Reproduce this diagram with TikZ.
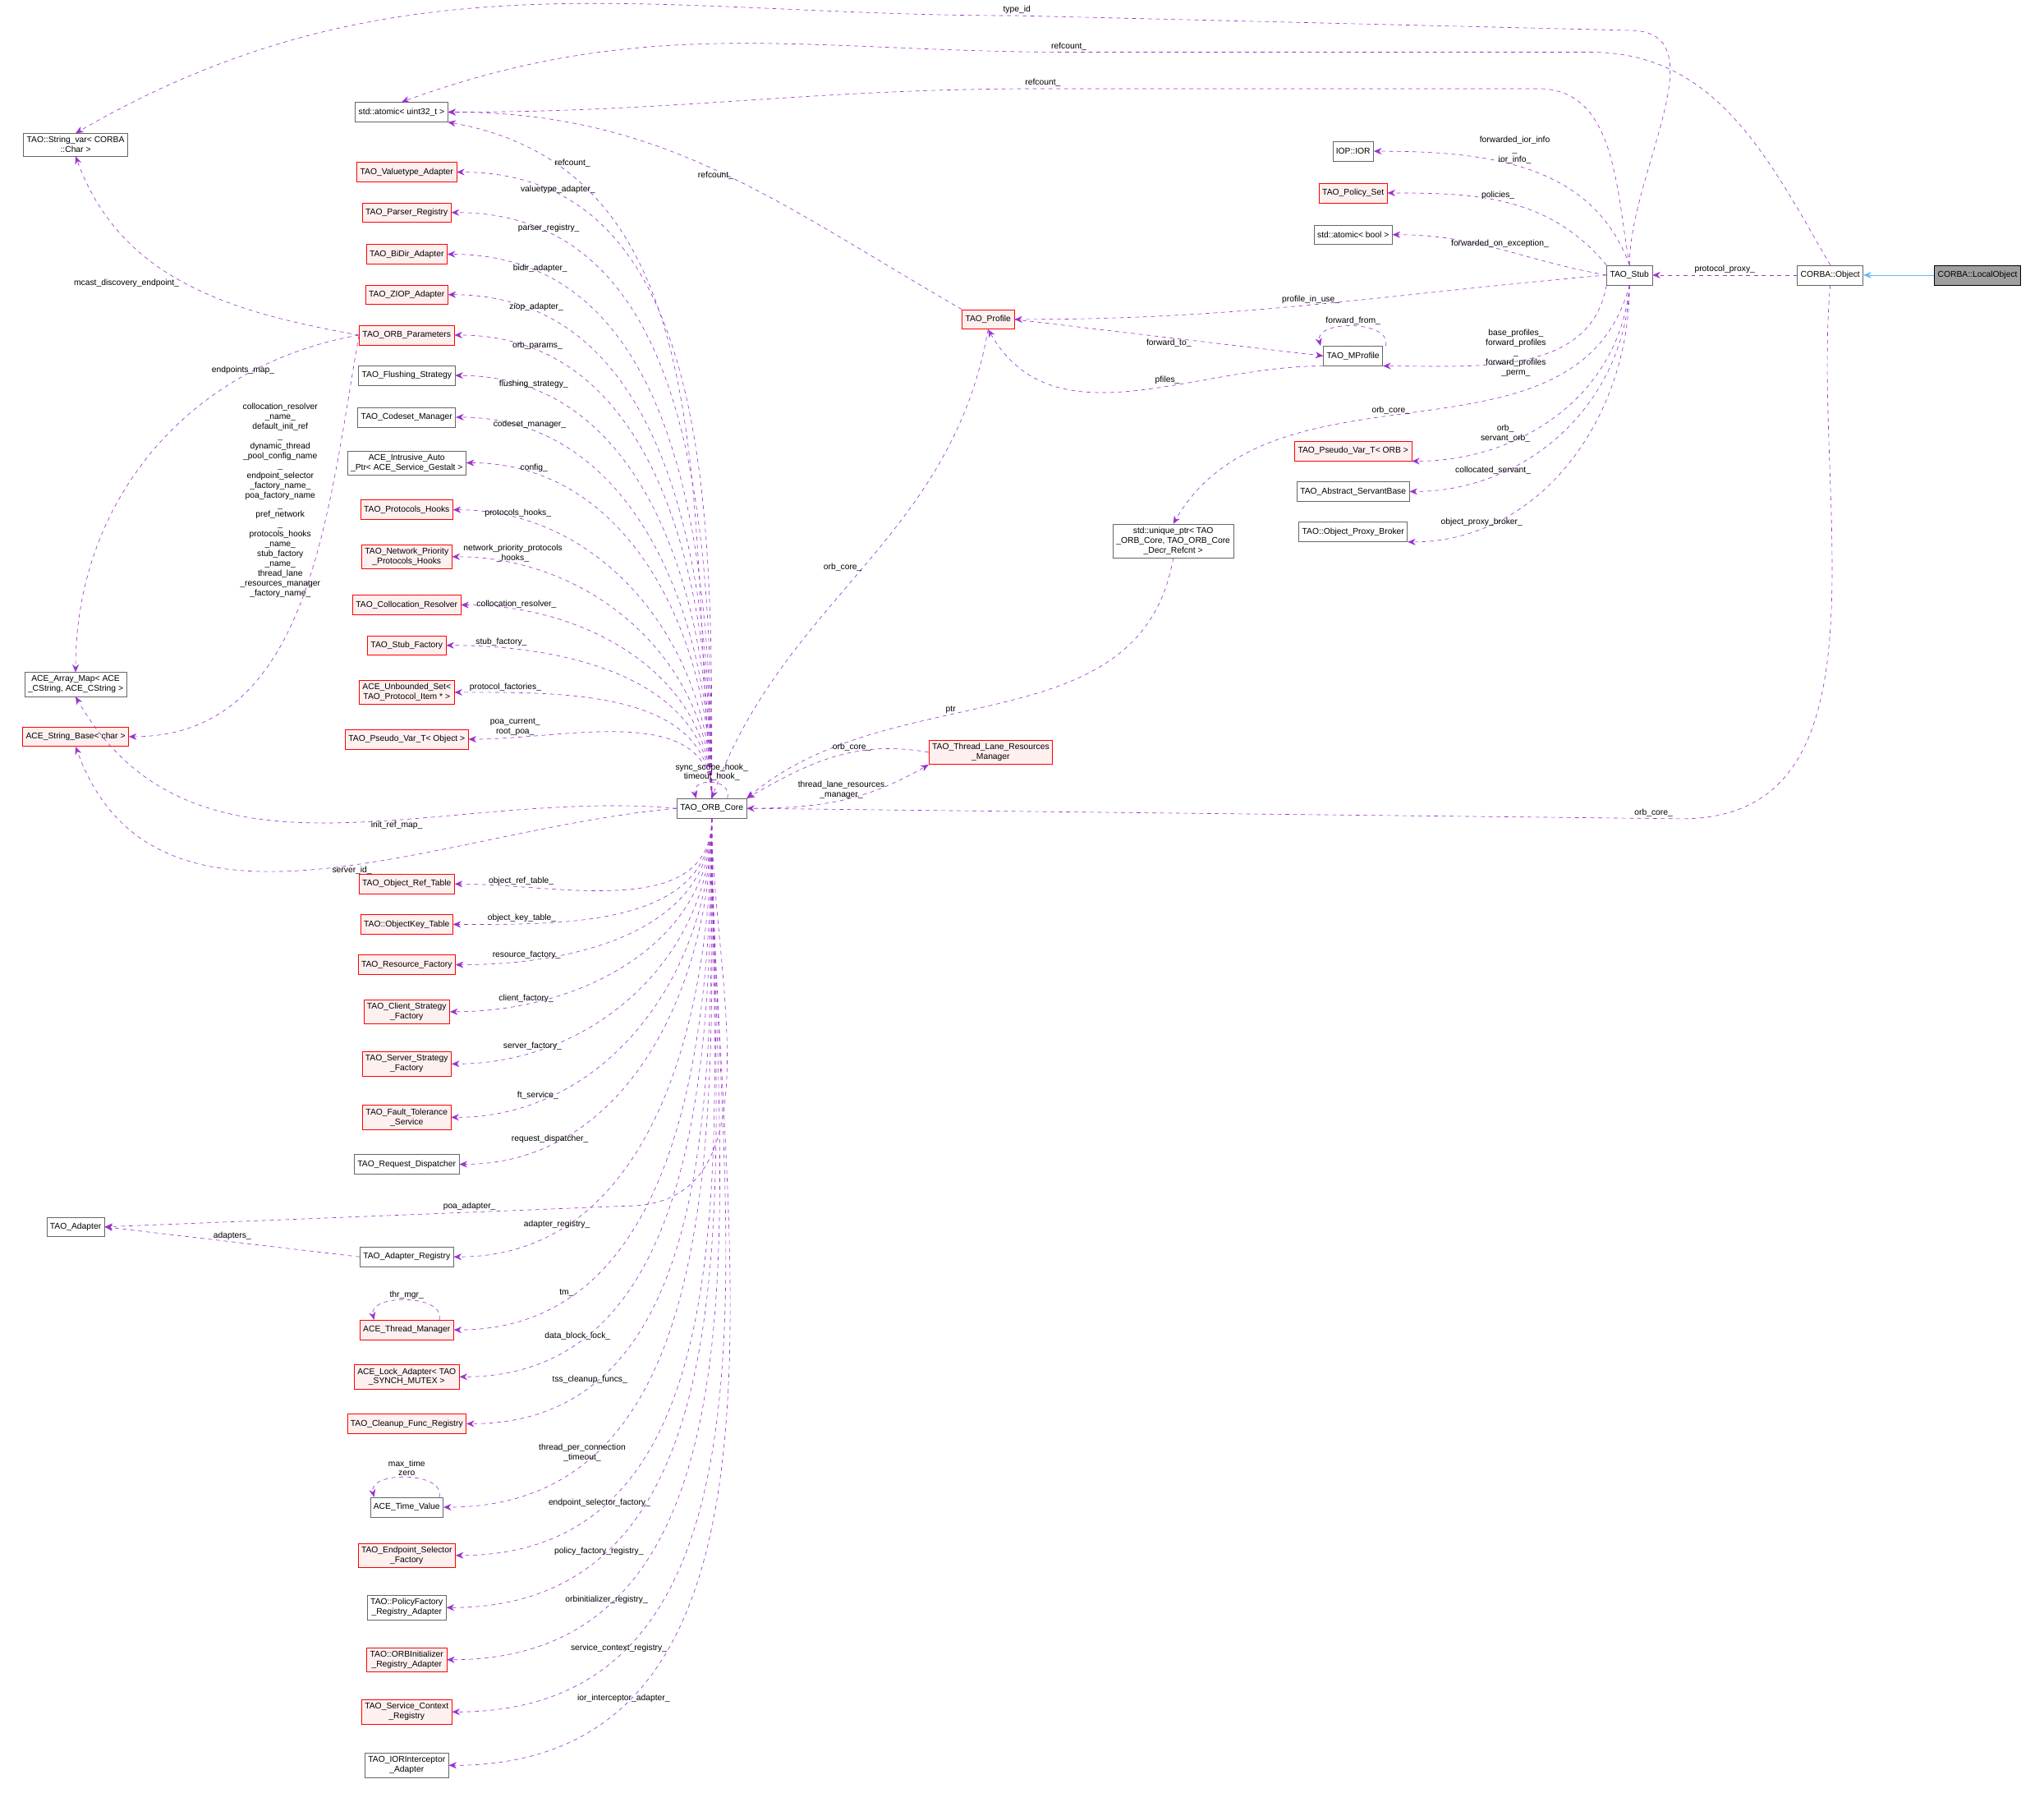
\documentclass[tikz,border=0pt]{standalone}
\usepackage{fontspec}
\setmainfont{Liberation Sans}
\usetikzlibrary{arrows.meta}
\definecolor{usecol}{HTML}{9A32CD}
\definecolor{inhcol}{HTML}{63B8FF}
\definecolor{redfill}{HTML}{FFF0F0}
\begin{document}
\begin{tikzpicture}[x=1pt,y=-1pt,font=\fontsize{6.5}{7.5}\selectfont,
  gbox/.style={draw=gray!80!black,fill=white,inner sep=2.5pt,minimum height=15,align=center},
  rbox/.style={draw=red,fill=redfill,inner sep=2.5pt,minimum height=15,align=center},
  use/.style={draw=usecol,dashed,-{Stealth[length=6pt,width=5pt]}},
  lab/.style={align=center,inner sep=1pt}]
\useasboundingbox (0,0) rectangle (1568,1375);
% left column of members
\foreach \nm/\yy/\st/\txt in {
  va/132/rbox/{TAO\_Valuetype\_Adapter}, pr/163/rbox/{TAO\_Parser\_Registry},
  bd/195/rbox/{TAO\_BiDir\_Adapter}, zi/226/rbox/{TAO\_ZIOP\_Adapter},
  op/257/rbox/{TAO\_ORB\_Parameters}, fs/288/gbox/{TAO\_Flushing\_Strategy},
  cm/320/gbox/{TAO\_Codeset\_Manager}, iap/355/gbox/{ACE\_Intrusive\_Auto\\\_Ptr< ACE\_Service\_Gestalt >},
  ph/391/rbox/{TAO\_Protocols\_Hooks}, np/427/rbox/{TAO\_Network\_Priority\\\_Protocols\_Hooks},
  cr/464/rbox/{TAO\_Collocation\_Resolver}, sf/495/rbox/{TAO\_Stub\_Factory},
  us/531/rbox/{ACE\_Unbounded\_Set<\\TAO\_Protocol\_Item * >}, pvo/567/rbox/{TAO\_Pseudo\_Var\_T< Object >},
  ort/678/rbox/{TAO\_Object\_Ref\_Table}, okt/709/rbox/{TAO::ObjectKey\_Table},
  rf/740/rbox/{TAO\_Resource\_Factory}, csf/776/rbox/{TAO\_Client\_Strategy\\\_Factory},
  ssf/816/rbox/{TAO\_Server\_Strategy\\\_Factory}, ft/857/rbox/{TAO\_Fault\_Tolerance\\\_Service},
  rd/893/gbox/{TAO\_Request\_Dispatcher}, ar/964/gbox/{TAO\_Adapter\_Registry},
  thm/1020/rbox/{ACE\_Thread\_Manager}, la/1056/rbox/{ACE\_Lock\_Adapter< TAO\\\_SYNCH\_MUTEX >},
  cf/1092/rbox/{TAO\_Cleanup\_Func\_Registry}, tv/1156/gbox/{ACE\_Time\_Value},
  es/1193/rbox/{TAO\_Endpoint\_Selector\\\_Factory}, pfr/1233/gbox/{TAO::PolicyFactory\\\_Registry\_Adapter},
  oir/1273/rbox/{TAO::ORBInitializer\\\_Registry\_Adapter}, scr/1313/rbox/{TAO\_Service\_Context\\\_Registry},
  ii/1354/gbox/{TAO\_IORInterceptor\\\_Adapter}}
  \node[\st] (\nm) at (312,\yy) {\txt};
\node[gbox] (au) at (308,86) {std::atomic< uint32\_t >};
\node[gbox] (sv) at (58,111) {TAO::String\_var< CORBA\\::Char >};
\node[gbox] (am) at (58,525) {ACE\_Array\_Map< ACE\\\_CString, ACE\_CString >};
\node[rbox] (sb) at (58,565) {ACE\_String\_Base< char >};
\node[gbox] (ad) at (58,941) {TAO\_Adapter};
\node[gbox] (core) at (546,620) {TAO\_ORB\_Core};
\node[rbox] (prof) at (758,245) {TAO\_Profile};
\node[gbox] (mp) at (1038,273) {TAO\_MProfile};
\node[rbox] (tl) at (760,577) {TAO\_Thread\_Lane\_Resources\\\_Manager};
\node[gbox] (up) at (900,415) {std::unique\_ptr< TAO\\\_ORB\_Core, TAO\_ORB\_Core\\\_Decr\_Refcnt >};
\node[gbox] (ior) at (1038,116) {IOP::IOR};
\node[rbox] (ps) at (1038,148) {TAO\_Policy\_Set};
\node[gbox] (ab) at (1038,180) {std::atomic< bool >};
\node[rbox] (pvr) at (1038,346) {TAO\_Pseudo\_Var\_T< ORB >};
\node[gbox] (asb) at (1038,377) {TAO\_Abstract\_ServantBase};
\node[gbox] (opb) at (1038,408) {TAO::Object\_Proxy\_Broker};
\node[gbox] (stub) at (1250,211) {TAO\_Stub};
\node[gbox] (obj) at (1404,211) {CORBA::Object};
\node[draw=black,fill=gray!75,inner sep=2.5pt,minimum height=15] (lo) at (1517,211) {CORBA::LocalObject};
% members of the ORB core
\foreach \nm/\lab in {va/valuetype\_adapter\_, pr/parser\_registry\_, bd/bidir\_adapter\_,
  zi/ziop\_adapter\_, op/orb\_params\_, fs/flushing\_strategy\_, cm/codeset\_manager\_,
  iap/config\_, ph/protocols\_hooks\_, np/{network\_priority\_protocols\\\_hooks\_},
  cr/collocation\_resolver\_, sf/stub\_factory\_, us/protocol\_factories\_, pvo/{poa\_current\_\\root\_poa\_}}
  \draw[use] (core.north) to[out=90,in=0] node[lab,pos=.85,above] {\lab} (\nm.east);
\foreach \nm/\lab in {ort/object\_ref\_table\_, okt/object\_key\_table\_, rf/resource\_factory\_,
  csf/client\_factory\_, ssf/server\_factory\_, ft/ft\_service\_, rd/request\_dispatcher\_,
  ar/adapter\_registry\_, thm/tm\_, la/data\_block\_lock\_, cf/tss\_cleanup\_funcs\_,
  tv/{thread\_per\_connection\\\_timeout\_}, es/endpoint\_selector\_factory\_,
  pfr/policy\_factory\_registry\_, oir/orbinitializer\_registry\_,
  scr/service\_context\_registry\_, ii/ior\_interceptor\_adapter\_}
  \draw[use] (core.south) to[out=-90,in=0] node[lab,pos=.8,above] {\lab} (\nm.east);
\draw[use] (core.north) to[out=95,in=-10] node[lab,pos=.85,right] {refcount\_} (au.south east);
\draw[use] (core.south) to[out=-90,in=0] (480,925) -- node[lab,pos=.3,above] {poa\_adapter\_} (ad.east);
\draw[use] (ar.west) -- node[lab,above] {adapters\_} (ad.east);
\draw[use] (core.west) to[out=175,in=-60] node[lab,pos=.4,below] {init\_ref\_map\_} (am.south);
\draw[use] (core.west) to[out=185,in=-70] node[lab,pos=.45,below] {server\_id\_} (sb.south);
\draw[use] (op.west) to[out=170,in=-70] node[lab,pos=.5,left=4pt] {mcast\_discovery\_endpoint\_} (sv.south);
\draw[use] (op.west) to[out=190,in=90] node[lab,pos=.25,above] {endpoints\_map\_} (am.north);
\draw[use] (op.west) to[out=-100,in=0] node[lab,pos=.3,left=6pt] {collocation\_resolver\\\_name\_\\default\_init\_ref\\\_\\dynamic\_thread\\\_pool\_config\_name\\\_\\endpoint\_selector\\\_factory\_name\_\\poa\_factory\_name\\\_\\pref\_network\\\_\\protocols\_hooks\\\_name\_\\stub\_factory\\\_name\_\\thread\_lane\\\_resources\_manager\\\_factory\_name\_} (sb.east);
% self references
\draw[use] ([xshift=25]thm.north) .. controls +(5,-20) and +(-5,-20) .. node[lab,above] {thr\_mgr\_} ([xshift=-25]thm.north);
\draw[use] ([xshift=25]tv.north) .. controls +(5,-20) and +(-5,-20) .. node[lab,above] {max\_time\\zero} ([xshift=-25]tv.north);
\draw[use] ([xshift=25]mp.north) .. controls +(5,-20) and +(-5,-20) .. node[lab,above] {forward\_from\_} ([xshift=-25]mp.north);
\draw[use] ([xshift=12]core.north) .. controls +(4,-16) and +(-4,-16) .. node[lab,above] {sync\_scope\_hook\_\\timeout\_hook\_} ([xshift=-12]core.north);
% profiles and threads
\draw[use] (prof.north west) to[out=150,in=0] node[lab,pos=.5,below] {refcount\_} (au.east);
\draw[use] (prof.south) to[out=-100,in=70] node[lab,pos=.5,left] {orb\_core\_} (core.north);
\draw[use] (up.south) to[out=-100,in=40] node[lab,pos=.6,above] {ptr} (core.north east);
\draw[use] (tl.west) to[out=170,in=30] node[lab,pos=.4,above] {orb\_core\_} (core.north east);
\draw[use] (core.east) to[out=0,in=-150] node[lab,pos=.5,above] {thread\_lane\_resources\\\_manager\_} (tl.south west);
\draw[use] (prof.east) -- node[lab,pos=.5,below] {forward\_to\_} (mp.west);
\draw[use] (mp.south west) to[out=180,in=-60] node[lab,pos=.4,above] {pfiles\_} (prof.south);
% the stub
\draw[use] (stub.north) to[out=90,in=0] ++(0,-180) -- (780,12) to[out=180,in=30] node[lab,pos=0,above] {type\_id} (sv.north);
\draw[use] (obj.north) to[out=120,in=0] (1220,40) -- (820,40) to[out=180,in=20] node[lab,pos=0,above] {refcount\_} (au.north);
\draw[use] (stub.north) to[out=100,in=0] (1180,68) -- (800,68) to[out=180,in=0] node[lab,pos=0,above] {refcount\_} (au.east);
\draw[use] (stub.north) to[out=110,in=0] node[lab,pos=.55,above] {forwarded\_ior\_info\\\_\\ior\_info\_} (ior.east);
\draw[use] (stub.north west) to[out=130,in=0] node[lab,pos=.55,above] {policies\_} (ps.east);
\draw[use] (stub.west) to[out=170,in=0] node[lab,pos=.5,above] {forwarded\_on\_exception\_} (ab.east);
\draw[use] (stub.west) to[out=185,in=0] node[lab,pos=.5,above] {profile\_in\_use\_} (prof.east);
\draw[use] (stub.south west) to[out=-100,in=0] node[lab,pos=.4,left] {base\_profiles\_\\forward\_profiles\\\_\\forward\_profiles\\\_perm\_} (mp.south east);
\draw[use] (stub.south) to[out=-105,in=60] node[lab,pos=.55,above] {orb\_core\_} (up.north);
\draw[use] (stub.south) to[out=-95,in=0] node[lab,pos=.7,above] {orb\_\\servant\_orb\_} (pvr.south east);
\draw[use] (stub.south) to[out=-92,in=0] node[lab,pos=.75,above] {collocated\_servant\_} (asb.east);
\draw[use] (stub.south) to[out=-90,in=0] node[lab,pos=.8,above] {object\_proxy\_broker\_} (opb.south east);
\draw[use] (obj.west) -- node[lab,above] {protocol\_proxy\_} (stub.east);
\draw[use] (obj.south) to[out=-95,in=0] (1290,628) -- node[lab,pos=.03,above] {orb\_core\_} (core.east);
\draw[draw=inhcol,-{Stealth[length=6pt,width=5pt]}] (lo.west) -- (obj.east);
\end{tikzpicture}
\end{document}
